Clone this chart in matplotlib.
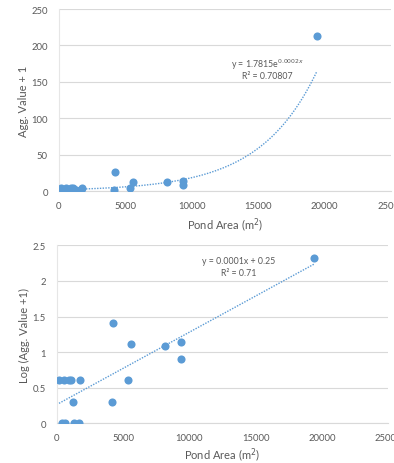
import matplotlib
matplotlib.use("Agg")
import matplotlib.pyplot as plt
import numpy as np

# Data
pond_area = [150, 550, 880, 1055, 1760, 380, 630, 1310, 1680, 1230,
             4170, 5350, 4220, 5580, 8170, 9370, 9370, 19400]
agg_value_plus1 = [4, 4, 4, 4, 4, 1, 1, 1, 1, 2,
                   2, 4, 26, 13, 12, 14, 8, 213]

# Trendline coefficients (as drawn)
exp_a, exp_b = 1.7815, 0.000233
lin_m, lin_c = 0.0001015, 0.265
trend_x_range = (150, 19400)

exp_label = r"y = 1.7815e$^{0.0002x}$"
exp_r2 = "R² = 0.70807"
lin_label = "y = 0.0001x + 0.25"
lin_r2 = "R² = 0.71"

x_ticks = [0, 5000, 10000, 15000, 20000, 25000]
top_yticks = [0, 50, 100, 150, 200, 250]
bot_yticks = [0, 0.5, 1, 1.5, 2, 2.5]
bot_yticklabels = ["0", "0.5", "1", "1.5", "2", "2.5"]

blue = "#5B9BD5"
txt = "#595959"
grid = "#D9D9D9"

plt.rcParams['font.family'] = ['Lato', 'DejaVu Sans']
fig = plt.figure(figsize=(3.94, 4.64), dpi=100)

ax1 = fig.add_axes([59/394, 272/464, 332/394, 182/464])
ax2 = fig.add_axes([57/394, 39.7/464, 331/394, 178/464])

def style(ax, xlabelpad):
    ax.set_xlim(0, 25000)
    ax.set_xticks(x_ticks)
    ax.set_xticklabels([str(t) for t in x_ticks])
    for s in ["top", "right"]:
        ax.spines[s].set_visible(False)
    ax.spines["left"].set_color("#E6E6E6")
    ax.spines["bottom"].set_color(grid)
    ax.spines["left"].set_linewidth(0.8)
    ax.spines["bottom"].set_linewidth(0.8)
    ax.tick_params(length=0, labelsize=6.8, colors=txt)
    ax.tick_params(axis="x", pad=7)
    ax.tick_params(axis="y", pad=8)
    ax.grid(axis="y", color=grid, linewidth=0.8)
    ax.set_axisbelow(True)
    ax.set_xlabel("Pond Area (m$^2$)", fontsize=8, color=txt, labelpad=xlabelpad)

# Top chart
style(ax1, 4)
ax1.set_ylim(0, 250)
ax1.set_yticks(top_yticks)
ax1.scatter(pond_area, agg_value_plus1, s=34, color=blue, zorder=3, linewidths=0)
tx = np.linspace(*trend_x_range, 200)
ax1.plot(tx, exp_a * np.exp(exp_b * tx), linestyle=(0, (1, 1)), color=blue,
         linewidth=1.0, zorder=2)
ax1.set_ylabel("Agg. Value + 1", fontsize=8, color=txt, labelpad=2)
ax1.text(15700, 175, exp_label, fontsize=6.3, color=txt, ha="center", va="center")
ax1.text(15700, 159, exp_r2, fontsize=6.3, color=txt, ha="center", va="center")

# Bottom chart
style(ax2, 2.5)
ax2.set_ylim(0, 2.5)
ax2.set_yticks(bot_yticks)
ax2.set_yticklabels(bot_yticklabels)
log_vals = np.log10(agg_value_plus1)
ax2.scatter(pond_area, log_vals, s=34, color=blue, zorder=3, linewidths=0)
ax2.plot(tx, lin_m * tx + lin_c, linestyle=(0, (1, 1)), color=blue,
         linewidth=1.0, zorder=2)
ax2.set_ylabel("Log (Agg. Value +1)", fontsize=8, color=txt, labelpad=2)
ax2.text(13700, 2.28, lin_label, fontsize=6.3, color=txt, ha="center", va="center")
ax2.text(13700, 2.12, lin_r2, fontsize=6.3, color=txt, ha="center", va="center")

fig.savefig("out.png", dpi=100)
